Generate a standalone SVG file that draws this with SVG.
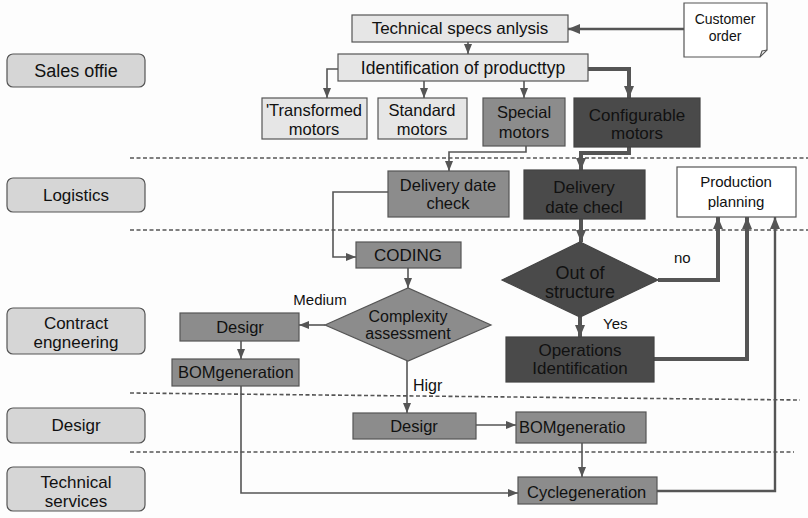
<svg xmlns="http://www.w3.org/2000/svg" width="808" height="518" viewBox="0 0 808 518">
<style>
text{font-family:"Liberation Sans",Arial,sans-serif;fill:#111;text-anchor:middle}
.lane{fill:#d6d6d6;stroke:#555;stroke-width:1.2}
.lt{font-size:17px}
.n{font-size:16.5px}
.s{font-size:15px}
.light{fill:#e6e6e6;stroke:#555;stroke-width:1.2}
.mid{fill:#8c8c8c;stroke:#555;stroke-width:1.2}
.dark{fill:#4a4a4a;stroke:#444;stroke-width:1.2}
.white{fill:#fff;stroke:#555;stroke-width:1.2}
.dash{stroke:#555;stroke-width:1.6;stroke-dasharray:4 2.5;fill:none}
.c{fill:none;stroke:#555;stroke-width:1.6}
.ck{fill:none;stroke:#555;stroke-width:4}
.cm{fill:none;stroke:#555;stroke-width:2.4}
</style>
<defs>
<marker id="a" markerUnits="userSpaceOnUse" markerWidth="10" markerHeight="10" viewBox="0 0 10 10" refX="10" refY="5" orient="auto"><path d="M0,1 L10,5 L0,9 Z" fill="#555"/></marker>
<marker id="ak" markerUnits="userSpaceOnUse" markerWidth="12" markerHeight="12" viewBox="0 0 12 12" refX="12" refY="6" orient="auto"><path d="M0,1 L12,6 L0,11 Z" fill="#555"/></marker>
</defs>
<rect width="808" height="518" fill="#fdfdfd"/>

<g id="lanes-dividers">
<line class="dash" x1="130" y1="158" x2="808" y2="158"/>
<line class="dash" x1="130" y1="230" x2="808" y2="230"/>
<line class="dash" x1="130" y1="393" x2="800" y2="400"/>
<line class="dash" x1="130" y1="452" x2="794" y2="452"/>
</g>

<g id="lane-sales"><rect class="lane" x="7" y="54" width="138" height="33" rx="6"/><text class="lt" x="76" y="77" style="font-size:18px">Sales offie</text></g>
<g id="lane-logistics"><rect class="lane" x="7" y="178" width="138" height="34" rx="6"/><text class="lt" x="76" y="201">Logistics</text></g>
<g id="lane-contract"><rect class="lane" x="7" y="308" width="138" height="46" rx="6"/><text class="lt" x="76" y="329">Contract</text><text class="lt" x="76" y="348">engneering</text></g>
<g id="lane-design"><rect class="lane" x="7" y="408" width="138" height="35" rx="6"/><text class="lt" x="76" y="431">Desigr</text></g>
<g id="lane-tech"><rect class="lane" x="7" y="467" width="138" height="44" rx="6"/><text class="lt" x="76" y="488">Technical</text><text class="lt" x="76" y="507">services</text></g>

<g id="connectors">
<path class="cm" d="M684,29 H568" marker-end="url(#ak)"/>
<path class="c" d="M468,42 V54" marker-end="url(#a)"/>
<path class="c" d="M338,69 H327 V98" marker-end="url(#a)"/>
<path class="c" d="M424,81 V98" marker-end="url(#a)"/>
<path class="c" d="M524,81 V98" marker-end="url(#a)"/>
<path class="ck" d="M588,69 H629 V98" marker-end="url(#ak)"/>
<path class="c" d="M526,146 V152 H449 V171" marker-end="url(#a)"/>
<path class="ck" d="M629,147 V153 H581 V170" marker-end="url(#ak)"/>
<path class="c" d="M388,192 H333 V257 H356" marker-end="url(#a)"/>
<path class="c" d="M408,268 V288" marker-end="url(#a)"/>
<path class="c" d="M325,325 H299" marker-end="url(#a)"/>
<path class="c" d="M241,341 V359" marker-end="url(#a)"/>
<path class="c" d="M407,361 V413" marker-end="url(#a)"/>
<path class="c" d="M476,425 H516" marker-end="url(#a)"/>
<path class="c" d="M582,443 V477" marker-end="url(#a)"/>
<path class="c" d="M241,386 V493 H518" marker-end="url(#a)"/>
<path class="cm" d="M657,491 H775 V217" marker-end="url(#ak)"/>
<path class="ck" d="M581,219 V242" marker-end="url(#ak)"/>
<path class="ck" d="M658,280 H718 V217" marker-end="url(#ak)"/>
<path class="ck" d="M580,317 V337" marker-end="url(#ak)"/>
<path class="ck" d="M654,359 H747 V217" marker-end="url(#ak)"/>
<text class="s" x="320" y="305">Medium</text>
<text class="s" x="413" y="391" style="text-anchor:start;font-size:16px">Higr</text>
<text class="s" x="603" y="329" style="text-anchor:start">Yes</text>
<text class="s" x="674" y="263" style="text-anchor:start">no</text>
</g>

<g id="tech-specs"><rect class="light" x="352" y="15" width="216" height="27"/><text class="n" x="460" y="34" style="font-size:17px">Technical specs anlysis</text></g>
<g id="identification"><rect class="light" x="338" y="54" width="250" height="27"/><text class="n" x="463" y="74" style="font-size:17.5px">Identification of producttyp</text></g>
<g id="transformed"><rect class="light" x="262" y="98" width="105" height="41"/><text class="n" x="314" y="116">'Transformed</text><text class="n" x="314" y="135">motors</text></g>
<g id="standard"><rect class="light" x="378" y="98" width="89" height="41"/><text class="n" x="422" y="116">Standard</text><text class="n" x="422" y="135">motors</text></g>
<g id="special"><rect class="mid" x="483" y="98" width="82" height="48"/><text class="n" x="524" y="118">Special</text><text class="n" x="524" y="138">motors</text></g>
<g id="configurable"><rect class="dark" x="574" y="98" width="126" height="49"/><text class="n" x="637" y="121" style="font-size:17px">Configurable</text><text class="n" x="637" y="139" style="font-size:17px">motors</text></g>
<g id="customer-order"><path class="white" d="M684,3 H767 V50 L760,57 H684 Z"/><path d="M760,57 L762,51 L767,50" fill="none" stroke="#555" stroke-width="1.2"/><text x="725" y="24" style="font-size:14px">Customer</text><text x="725" y="41" style="font-size:14px">order</text></g>
<g id="delivery-gray"><rect class="mid" x="388" y="171" width="121" height="46"/><text class="n" x="448" y="191">Delivery date</text><text class="n" x="448" y="209">check</text></g>
<g id="delivery-dark"><rect class="dark" x="524" y="170" width="121" height="49"/><text class="n" x="584" y="193" style="font-size:17px">Delivery</text><text class="n" x="584" y="213" style="font-size:17px">date checl</text></g>
<g id="production-planning"><rect class="white" x="677" y="167" width="119" height="50"/><text class="s" x="736" y="187">Production</text><text class="s" x="736" y="207">planning</text></g>
<g id="coding"><rect class="mid" x="356" y="242" width="105" height="26"/><text class="n" x="408" y="261" style="font-size:17px">CODING</text></g>
<g id="complexity"><path class="mid" d="M325,325 L408,288 L491,325 L408,361 Z"/><text class="n" x="408" y="322" style="font-size:16px">Complexity</text><text class="n" x="408" y="339" style="font-size:16px">assessment</text></g>
<g id="out-of-structure"><path class="dark" d="M502,280 L580,242 L658,280 L580,317 Z"/><text class="n" x="580" y="279" style="font-size:18px">Out of</text><text class="n" x="580" y="298" style="font-size:18px">structure</text></g>
<g id="operations"><rect class="dark" x="506" y="337" width="148" height="45"/><text class="n" x="580" y="356" style="font-size:17px">Operations</text><text class="n" x="580" y="374" style="font-size:17px">Identification</text></g>
<g id="design-left"><rect class="mid" x="180" y="313" width="119" height="28"/><text class="n" x="240" y="333">Desigr</text></g>
<g id="bom-left"><rect class="mid" x="172" y="359" width="127" height="27"/><text class="n" x="178" y="378" style="text-anchor:start">BOMgeneration</text></g>
<g id="design-mid"><rect class="mid" x="353" y="413" width="123" height="26"/><text class="n" x="414" y="432">Desigr</text></g>
<g id="bom-mid"><rect class="mid" x="516" y="412" width="130" height="31"/><text class="n" x="519" y="433" style="text-anchor:start">BOMgeneratio</text></g>
<g id="cycle"><rect class="mid" x="518" y="477" width="139" height="27"/><text class="n" x="527" y="498" style="text-anchor:start">Cyclegeneration</text></g>
</svg>
